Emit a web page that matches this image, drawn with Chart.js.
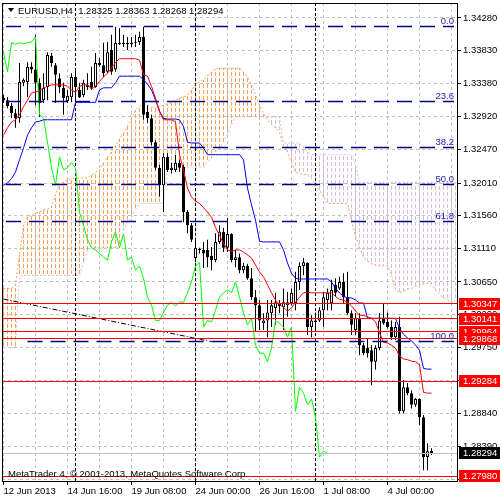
<!DOCTYPE html>
<html><head><meta charset="utf-8">
<script src="https://cdn.jsdelivr.net/npm/chart.js@4.4.1/dist/chart.umd.min.js"></script>
<style>html,body{margin:0;padding:0;background:#fff;}canvas{display:block;}</style>
</head><body>
<canvas id="c" width="500" height="500"></canvas>
<script>
const titleText = 'EURUSD,H4  1.28325 1.28363 1.28268 1.28294';
const copyrightText = 'MetaTrader 4, \u00A9 2001-2013, MetaQuotes Software Corp.';
const timeLabels = ['12 Jun 2013','14 Jun 16:00','19 Jun 08:00','24 Jun 00:00','26 Jun 16:00','1 Jul 08:00','4 Jul 00:00'];
const timeLabelBars = [0,16,32,48,64,80,96];
const gridBars = [0,8,16,24,32,40,48,56,64,72,80,88,96,104,112];
const weekStartBars = [18,48,78];
const yTicks = [1.34280,1.33830,1.33380,1.32920,1.32470,1.32010,1.31560,1.31110,1.30650,1.30200,1.29750,1.29290,1.28840,1.28390,1.27930];

const opens = [1.3318,1.3315,1.3307,1.3297,1.3290,1.3339,1.3340,1.3361,1.3357,1.3339,
1.3315,1.3333,1.3376,1.3363,1.3345,1.3332,1.3314,1.3319,1.3347,1.3329,
1.3322,1.3336,1.3340,1.3333,1.3366,1.3363,1.3354,1.3384,1.3357,1.3394,
1.3392,1.3394,1.3392,1.3394,1.3395,1.3402,1.3299,1.3290,1.3257,1.3222,
1.3198,1.3237,1.3219,1.3219,1.3229,1.3223,1.3161,1.3143,1.3098,1.3110,
1.3109,1.3109,1.3101,1.3095,1.3120,1.3134,1.3112,1.3131,1.3095,1.3099,
1.3081,1.3087,1.3070,1.3044,1.3033,1.3008,1.3012,1.3022,1.3029,1.3036,
1.3030,1.3033,1.3036,1.3036,1.3065,1.3087,1.3091,1.3003,1.3012,1.3012,
1.3026,1.3040,1.3036,1.3061,1.3056,1.3065,1.3044,1.3022,1.2999,1.3015,
1.2978,1.2974,1.2971,1.2955,1.2974,1.3015,1.3010,1.3003,1.2989,1.3003,
1.2887,1.2920,1.2912,1.2896,1.2904,1.2879,1.2824,1.28325];
const highs = [1.3322,1.3319,1.3311,1.3303,1.3366,1.3345,1.3367,1.3367,1.3405,1.3345,
1.3352,1.3381,1.3380,1.3366,1.3352,1.3339,1.3329,1.3352,1.3357,1.3339,
1.3343,1.3352,1.3361,1.3380,1.3373,1.3394,1.3395,1.3405,1.3416,1.3414,
1.3405,1.3402,1.3402,1.3405,1.3409,1.3416,1.3308,1.3295,1.3260,1.3226,
1.3242,1.3242,1.3229,1.3240,1.3233,1.3226,1.3164,1.3146,1.3123,1.3112,
1.3120,1.3123,1.3113,1.3132,1.3143,1.3139,1.3153,1.3132,1.3109,1.3104,
1.3091,1.3090,1.3084,1.3054,1.3040,1.3022,1.3040,1.3040,1.3050,1.3040,
1.3056,1.3051,1.3056,1.3079,1.3092,1.3098,1.3092,1.3019,1.3023,1.3030,
1.3051,1.3056,1.3068,1.3070,1.3072,1.3077,1.3079,1.3026,1.3022,1.3022,
1.2981,1.2988,1.2978,1.2978,1.3022,1.3036,1.3023,1.3012,1.3010,1.3017,
1.2930,1.2926,1.2916,1.2905,1.2905,1.2882,1.2843,1.28363];
const lows = [1.3311,1.3304,1.3290,1.3277,1.3284,1.3334,1.3319,1.3352,1.3308,1.3292,
1.3311,1.3315,1.3361,1.3311,1.3325,1.3295,1.3311,1.3312,1.3318,1.3318,
1.3319,1.3329,1.3329,1.3332,1.3361,1.3347,1.3352,1.3350,1.3354,1.3391,
1.3388,1.3384,1.3388,1.3388,1.3391,1.3288,1.3284,1.3253,1.3219,1.3182,
1.3161,1.3216,1.3214,1.3216,1.3216,1.3147,1.3132,1.3120,1.3092,1.3104,
1.3084,1.3085,1.3081,1.3092,1.3117,1.3106,1.3106,1.3092,1.3085,1.3077,
1.3077,1.3068,1.3040,1.2996,1.2999,1.2999,1.2989,1.3003,1.3006,1.3022,
1.2999,1.3017,1.3033,1.3026,1.3054,1.3074,1.2992,1.2989,1.3001,1.3010,
1.3003,1.3026,1.3026,1.3045,1.3054,1.3036,1.3019,1.2992,1.2992,1.2964,
1.2964,1.2961,1.2923,1.2944,1.2971,1.3006,1.3001,1.2985,1.2985,1.2884,
1.2884,1.2909,1.2891,1.2893,1.2868,1.2806,1.2806,1.28268];
const closes = [1.3315,1.3307,1.3297,1.3290,1.3340,1.3343,1.3361,1.3357,1.3339,1.3311,
1.3332,1.3377,1.3366,1.3350,1.3333,1.3318,1.3321,1.3347,1.3333,1.3319,
1.3339,1.3333,1.3332,1.3366,1.3363,1.3352,1.3381,1.3354,1.3394,1.3392,
1.3394,1.3392,1.3394,1.3395,1.3402,1.3295,1.3290,1.3257,1.3222,1.3198,
1.3237,1.3219,1.3222,1.3229,1.3222,1.3161,1.3143,1.3123,1.3112,1.3109,
1.3104,1.3099,1.3095,1.3120,1.3134,1.3112,1.3131,1.3095,1.3099,1.3081,
1.3087,1.3070,1.3044,1.3033,1.3012,1.3012,1.3023,1.3033,1.3037,1.3032,
1.3037,1.3037,1.3050,1.3065,1.3087,1.3092,1.3003,1.3012,1.3010,1.3026,
1.3044,1.3050,1.3054,1.3050,1.3065,1.3044,1.3022,1.3006,1.3015,1.2978,
1.2967,1.2967,1.2955,1.2974,1.3012,1.3008,1.3003,1.2989,1.3003,1.2887,
1.2920,1.2912,1.2896,1.2904,1.2879,1.2824,1.2832,1.28294];

const tenkan = [1.3267,1.3277,1.3285,1.3288,1.3295,1.3306,1.3315,1.3325,1.3326,1.3328,
1.3332,1.3334,1.3336,1.3336,1.3336,1.3336,1.3334,1.3329,1.3326,1.3334,
1.3336,1.3336,1.3330,1.3334,1.3341,1.3347,1.3352,1.3359,1.3367,1.3372,
1.3372,1.3372,1.3372,1.3372,1.3370,1.3350,1.3348,1.3334,1.3318,1.3299,
1.3288,1.3288,1.3288,1.3285,1.3240,1.3219,1.3194,1.3182,1.3176,1.3173,
1.3167,1.3161,1.3154,1.3140,1.3129,1.3118,1.3109,1.3107,1.3109,1.3109,
1.3106,1.3102,1.3098,1.3088,1.3079,1.3072,1.3061,1.3050,1.3040,1.3034,
1.3030,1.3025,1.3029,1.3037,1.3044,1.3050,1.3051,1.3050,1.3050,1.3050,
1.3050,1.3050,1.3050,1.3045,1.3041,1.3040,1.3037,1.3032,1.3025,1.3019,
1.3019,1.3017,1.3015,1.3010,1.2995,1.2982,1.2981,1.2978,1.2974,1.2963,
1.2959,1.2958,1.2956,1.2955,1.2951,1.2913,1.2912,1.2912];
const kijun = [1.3198,1.3201,1.3207,1.3216,1.3233,1.3249,1.3267,1.3277,1.3285,1.3286,
1.3288,1.3288,1.3288,1.3288,1.3288,1.3288,1.3288,1.3288,1.3312,1.3312,
1.3312,1.3312,1.3312,1.3312,1.3329,1.3332,1.3332,1.3332,1.3339,1.3348,
1.3348,1.3348,1.3348,1.3348,1.3348,1.3343,1.3337,1.3329,1.3315,1.3300,
1.3290,1.3289,1.3289,1.3289,1.3288,1.3279,1.3257,1.3256,1.3256,1.3256,
1.3249,1.3240,1.3240,1.3240,1.3240,1.3240,1.3240,1.3240,1.3240,1.3240,
1.3233,1.3194,1.3171,1.3150,1.3121,1.3120,1.3120,1.3120,1.3120,1.3120,
1.3109,1.3091,1.3077,1.3070,1.3069,1.3069,1.3069,1.3069,1.3069,1.3069,
1.3069,1.3069,1.3065,1.3056,1.3050,1.3045,1.3043,1.3043,1.3040,1.3036,
1.3036,1.3015,1.3015,1.3015,1.3015,1.3015,1.3015,1.3015,1.3015,1.3001,
1.2993,1.2988,1.2984,1.2978,1.2971,1.2946,1.2945,1.2945];
const spanA = [1.3056,1.3056,1.3056,1.3062,1.3102,1.3143,1.3154,1.3157,1.3160,1.3161,
1.3164,1.3165,1.3168,1.3185,1.3200,1.3202,1.3205,1.3207,1.3208,1.3208,
1.3208,1.3208,1.3212,1.3216,1.3219,1.3229,1.3237,1.3244,1.3252,1.3262,
1.3270,1.3279,1.3289,1.3301,1.3307,1.3308,1.3308,1.3306,1.3304,1.3307,
1.3308,1.3310,1.3311,1.3315,1.3318,1.3319,1.3322,1.3329,1.3337,1.3340,
1.3343,1.3348,1.3354,1.3358,1.3359,1.3359,1.3359,1.3359,1.3359,1.3359,
1.3354,1.3347,1.3336,1.3322,1.3308,1.3297,1.3288,1.3281,1.3277,1.3271,
1.3252,1.3244,1.3229,1.3216,1.3214,1.3213,1.3212,1.3207,1.3198,1.3191,
1.3182,1.3173,1.3173,1.3173,1.3173,1.3173,1.3173,1.3150,1.3128,1.3112,
1.3099,1.3094,1.3090,1.3088,1.3087,1.3087,1.3087,1.3074,1.3055,1.3050,
1.3052,1.3055,1.3056,1.3059,1.3061,1.3062,1.3063,1.3062,1.3054,1.3048,
1.3043,1.3040,1.3037,1.3040];
const spanB = [1.2975,1.2975,1.2975,1.2975,1.3073,1.3074,1.3074,1.3074,1.3074,1.3074,
1.3074,1.3074,1.3074,1.3074,1.3074,1.3074,1.3074,1.3074,1.3074,1.3074,
1.3092,1.3109,1.3112,1.3112,1.3112,1.3112,1.3112,1.3112,1.3112,1.3112,
1.3136,1.3147,1.3154,1.3164,1.3173,1.3173,1.3173,1.3173,1.3173,1.3173,
1.3173,1.3223,1.3223,1.3223,1.3223,1.3223,1.3223,1.3223,1.3223,1.3223,
1.3223,1.3230,1.3235,1.3244,1.3249,1.3257,1.3270,1.3281,1.3292,1.3292,
1.3292,1.3292,1.3292,1.3292,1.3292,1.3292,1.3292,1.3292,1.3292,1.3292,
1.3256,1.3256,1.3256,1.3256,1.3256,1.3251,1.3244,1.3240,1.3240,1.3240,
1.3240,1.3240,1.3240,1.3240,1.3240,1.3240,1.3240,1.3240,1.3226,1.3202,
1.3202,1.3202,1.3202,1.3202,1.3202,1.3202,1.3202,1.3202,1.3202,1.3202,
1.3202,1.3202,1.3202,1.3202,1.3202,1.3202,1.3202,1.3202,1.3202,1.3202,
1.3202,1.3202,1.3202,1.3202];
const chikouShift = 26; // Chikou span = close plotted 26 bars back
const trendBars = [0, 52];
const trendPrices = [1.30414, 1.29829];
const fibLabels = ['0.0','23.6','38.2','50.0','61.8','100.0'];
const fibPrices = [1.34157,1.33135,1.32503,1.31992,1.31481,1.29826];
const levelPrices = [1.30347,1.30141,1.29964,1.29868,1.29284,1.27980];
const bidPrice = 1.28294;

const FONT = '"Liberation Sans", Arial, sans-serif';
const FS = 9.5;
const ORANGE = '#f4a460';
const THISTLE = '#d8bfd8';
Chart.defaults.font.family = FONT;
Chart.defaults.font.size = FS;
Chart.defaults.color = '#000';

const cv = document.getElementById('c');
const idx = opens.map((_, i) => i);
const pts = arr => arr.map((v, i) => ({x: i, y: v}));

const mt4 = {
  id: 'mt4',
  beforeDatasetsDraw(chart) {
    const {ctx, chartArea: a, scales: {x, y}} = chart;
    ctx.save();
    ctx.beginPath(); ctx.rect(a.left, a.top, a.right - a.left, a.bottom - a.top); ctx.clip();
    // Ichimoku cloud: dotted vertical hatch, one per bar, between span A and span B
    spanA.forEach((va, i) => {
      const vb = spanB[i];
      const ya = y.getPixelForValue(va), yb = y.getPixelForValue(vb);
      const top = Math.round(Math.min(ya, yb)), bot = Math.round(Math.max(ya, yb));
      if (bot - top < 1) return;
      const px = Math.round(x.getPixelForValue(i) - 0.5);
      ctx.fillStyle = va >= vb ? ORANGE : THISTLE;
      for (let yy = Math.floor(top / 6) * 6; yy < bot; yy += 6) {
        const s = Math.max(yy, top), e = Math.min(yy + 4, bot);
        if (e > s) ctx.fillRect(px, s, 1, e - s);
      }
    });
    ctx.lineWidth = 1;
    ctx.strokeStyle = '#000'; ctx.setLineDash([3, 2]);
    weekStartBars.forEach(b => {
      const px = Math.round(x.getPixelForValue(b) - 0.5) + 0.5;
      ctx.beginPath(); ctx.moveTo(px, a.top); ctx.lineTo(px, a.bottom); ctx.stroke();
    });
    ctx.restore();
  },
  afterDatasetsDraw(chart) {
    const {ctx, chartArea: a, scales: {x, y}} = chart;
    const py = v => Math.round(y.getPixelForValue(v) - 0.5) + 0.5;
    ctx.save();
    ctx.beginPath(); ctx.rect(a.left, a.top, a.right - a.left, a.bottom - a.top); ctx.clip();
    ctx.lineWidth = 1;
    const hl = (yy, x0, x1) => { ctx.beginPath(); ctx.moveTo(x0, yy); ctx.lineTo(x1, yy); ctx.stroke(); };
    ctx.strokeStyle = '#c0c0c0'; ctx.setLineDash([]);
    hl(py(bidPrice), a.left, a.right);
    ctx.strokeStyle = '#ff0000';
    levelPrices.forEach(p => hl(py(p), a.left, a.right));
    ctx.strokeStyle = '#000080'; ctx.lineWidth = 1.4; ctx.setLineDash([15, 8]);
    fibPrices.forEach((p, k) => {
      const x0 = k === fibPrices.length - 1 ? x.getPixelForValue(6) : a.left + 4;
      hl(py(p), x0, a.right - 3);
    });
    ctx.setLineDash([]);
    ctx.fillStyle = '#2424b4'; ctx.font = FS + 'px ' + FONT;
    ctx.textAlign = 'right'; ctx.textBaseline = 'alphabetic';
    fibPrices.forEach((p, k) => ctx.fillText(fibLabels[k], a.right - 3, py(p) - 2.5));
    ctx.restore();
  },
  afterDraw(chart) {
    const {ctx, chartArea: a, scales: {y}} = chart;
    ctx.save();
    ctx.strokeStyle = '#000'; ctx.lineWidth = 1;
    ctx.beginPath();
    ctx.moveTo(a.left + 0.5, a.top); ctx.lineTo(a.left + 0.5, a.bottom);
    ctx.moveTo(a.left, a.top + 0.5); ctx.lineTo(a.right, a.top + 0.5);
    ctx.stroke();
    ctx.font = FS + 'px ' + FONT; ctx.textBaseline = 'middle'; ctx.textAlign = 'left';
    ctx.fillStyle = '#000';
    ctx.beginPath(); ctx.moveTo(8, 8); ctx.lineTo(14, 8); ctx.lineTo(11, 12); ctx.closePath(); ctx.fill();
    ctx.fillText(titleText, 18, 11);
    ctx.fillText(copyrightText, 8, 474);
    const box = (v, bg) => {
      const yy = Math.round(y.getPixelForValue(v));
      ctx.fillStyle = bg; ctx.fillRect(a.right + 2, yy - 6, 500 - a.right - 2, 12);
      ctx.fillStyle = '#fff'; ctx.fillText(v.toFixed(5), a.right + 6, yy + 0.5);
    };
    levelPrices.forEach(p => box(p, '#ff0000'));
    box(bidPrice, '#000');
    ctx.restore();
  }
};

new Chart(cv, {
  type: 'bar',
  data: {
    datasets: [
      {type: 'line', data: pts(spanA), borderColor: ORANGE, borderWidth: 1, borderDash: [2, 2], pointRadius: 0, fill: false, order: 10},
      {type: 'line', data: pts(spanB), borderColor: THISTLE, borderWidth: 1, borderDash: [2, 2], pointRadius: 0, fill: false, order: 9},
      {type: 'bar', data: idx.map(i => ({x: i, y: [lows[i], highs[i]]})), backgroundColor: '#000', borderWidth: 0,
       barThickness: 1, grouped: false, inflateAmount: 0, order: 6},
      {type: 'bar', data: idx.map(i => ({x: i, y: [Math.min(opens[i], closes[i]), Math.max(opens[i], closes[i])]})),
       backgroundColor: idx.map(i => closes[i] > opens[i] ? '#fff' : '#000'), borderColor: '#000', borderWidth: 1,
       borderSkipped: false, barThickness: 3, grouped: false, inflateAmount: 0, minBarLength: 1, order: 5},
      {type: 'line', data: closes.slice(chikouShift).map((v, i) => ({x: i, y: v})), borderColor: '#00ff00', borderWidth: 1, pointRadius: 0, fill: false, order: 4},
      {type: 'line', data: pts(kijun), borderColor: '#0000ff', borderWidth: 1, pointRadius: 0, fill: false, order: 3},
      {type: 'line', data: pts(tenkan), borderColor: '#ff0000', borderWidth: 1, pointRadius: 0, fill: false, order: 2},
      {type: 'line', data: trendBars.map((b, k) => ({x: b, y: trendPrices[k]})), borderColor: '#000', borderWidth: 1,
       borderDash: [5, 2, 1, 2], pointRadius: 0, fill: false, order: 1}
    ]
  },
  options: {
    responsive: false, animation: false, devicePixelRatio: 1, events: [],
    layout: {padding: {left: 2, top: 3, right: 0, bottom: 0}},
    plugins: {legend: {display: false}, tooltip: {enabled: false}},
    scales: {
      x: {
        type: 'linear', position: 'bottom', min: -0.375, max: 113.375, offset: false,
        afterBuildTicks: s => { s.ticks = gridBars.map(v => ({value: v})); },
        afterFit: s => { s.height = 19; s.paddingLeft = 0; s.paddingRight = 0; },
        ticks: {autoSkip: false, maxRotation: 0, minRotation: 0, align: 'start', padding: 1,
          callback: v => { const k = timeLabelBars.indexOf(v); return k >= 0 ? timeLabels[k] : ''; }},
        grid: {offset: false, color: '#c0c0c0', lineWidth: 1, drawTicks: true, tickLength: 4,
          tickColor: c => (c.tick && timeLabelBars.includes(c.tick.value)) ? '#000' : 'rgba(0,0,0,0)'},
        border: {display: true, color: '#000', width: 1, dash: [3, 3]}
      },
      y: {
        type: 'linear', position: 'right', min: 1.279114, max: 1.344863, beginAtZero: false,
        afterBuildTicks: s => { s.ticks = yTicks.map(v => ({value: v})); },
        afterFit: s => { s.width = 43; s.paddingTop = 0; s.paddingBottom = 0; },
        ticks: {autoSkip: false, padding: 2, callback: v => v.toFixed(5)},
        grid: {color: '#c0c0c0', lineWidth: 1, drawTicks: true, tickLength: 4, tickColor: '#000'},
        border: {display: true, color: '#000', width: 1, dash: [3, 3]}
      }
    }
  },
  plugins: [mt4]
});
</script>
</body></html>
